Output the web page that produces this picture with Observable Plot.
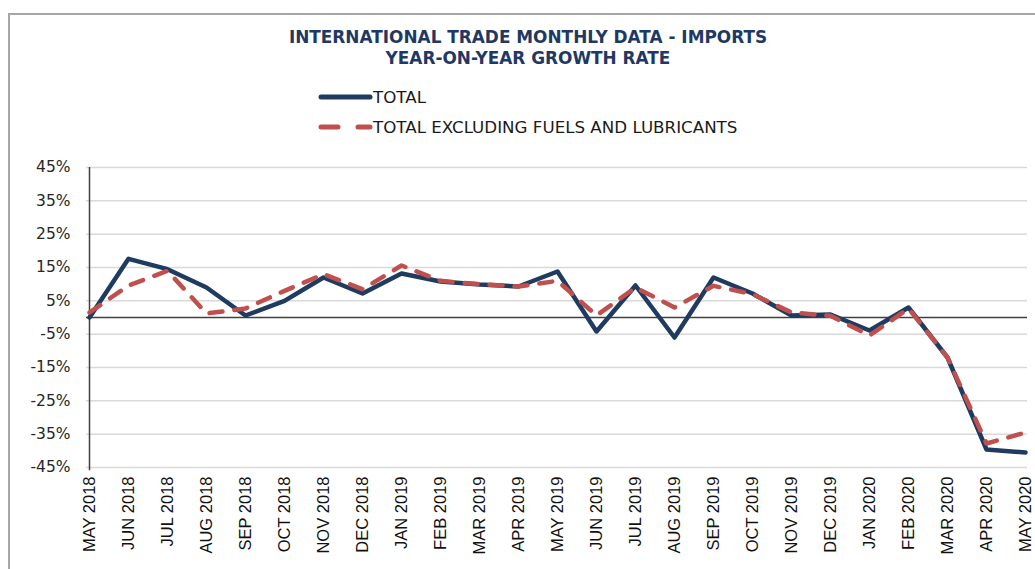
<!DOCTYPE html>
<html>
<head>
<meta charset="utf-8">
<script src="https://cdn.jsdelivr.net/npm/d3@7"></script>
<script src="https://cdn.jsdelivr.net/npm/@observablehq/plot@0.6"></script>
<style>
  body { margin:0; width:1035px; height:569px; overflow:hidden; position:relative; background:#fff; }
  .frame { position:absolute; left:8px; top:13px; width:1100px; height:700px; border-left:2px solid #a6a6a6; border-top:2px solid #a6a6a6; }
  .title { position:absolute; left:0; width:1056px; text-align:center; font-family:"DejaVu Sans",sans-serif; font-weight:bold; font-size:16.9px; color:#1f3864; }
  .leg { position:absolute; left:318px; font-family:"DejaVu Sans",sans-serif; font-size:16.7px; color:#1a1a1a; display:flex; align-items:center; }
  #chart { position:absolute; left:0; top:150px; }
</style>
</head>
<body>
<div class="frame"></div>
<div class="title" style="top:27px">INTERNATIONAL TRADE MONTHLY DATA - IMPORTS</div>
<div class="title" style="top:48px">YEAR-ON-YEAR GROWTH RATE</div>
<div class="leg" style="top:87px"><svg width="55" height="10"><line x1="3" x2="52" y1="5" y2="5" stroke="#1f3b5f" stroke-width="5" stroke-linecap="round"/></svg>TOTAL</div>
<div class="leg" style="top:117px"><svg width="55" height="10"><line x1="3" x2="52" y1="5" y2="5" stroke="#c0504d" stroke-width="5" stroke-linecap="round" stroke-dasharray="17,20"/></svg>TOTAL EXCLUDING FUELS AND LUBRICANTS</div>
<div id="chart"></div>
<script>
const months = ["MAY 2018","JUN 2018","JUL 2018","AUG 2018","SEP 2018","OCT 2018","NOV 2018","DEC 2018",
  "JAN 2019","FEB 2019","MAR 2019","APR 2019","MAY 2019","JUN 2019","JUL 2019","AUG 2019","SEP 2019",
  "OCT 2019","NOV 2019","DEC 2019","JAN 2020","FEB 2020","MAR 2020","APR 2020","MAY 2020"];
const total = [0, 17.6, 14.5, 9, 0.6, 5, 12, 7.2, 13.2, 10.8, 9.9, 9.3, 13.8, -4.2, 9.6, -6, 12, 7.2, 0.6, 0.9, -3.9, 3, -12, -39.6, -40.5];
const exclFuels = [1.5, 9.6, 14, 1.2, 2.7, 8, 13, 8.5, 15.6, 11, 10, 9.3, 11, 0.6, 9, 3, 9.5, 7, 1.5, 0.5, -5.4, 2.7, -12, -37.8, -34.5];
const yTicks = [-45, -35, -25, -15, -5, 5, 15, 25, 35, 45];

const rowsTotal = months.map((m, i) => ({month: m, value: total[i]}));
const rowsExcl = months.map((m, i) => ({month: m, value: exclFuels[i]}));

const chart = Plot.plot({
  width: 1035,
  height: 419,
  marginTop: 17,
  marginBottom: 102,
  marginLeft: 86,
  marginRight: 8,
  style: {background: "transparent", overflow: "visible"},
  x: {type: "point", domain: months, padding: 0, label: null},
  y: {domain: [-45, 45], label: null},
  marks: [
    Plot.gridY(yTicks, {stroke: "#d9d9d9", strokeOpacity: 1, strokeWidth: 1.5}),
    Plot.axisY(yTicks, {tickSize: 0, tickPadding: 16, tickFormat: d => d + "%", label: null}),
    Plot.axisX({tickSize: 0, tickPadding: 9, tickRotate: -90, label: null}),
    Plot.ruleY([0], {stroke: "#404040", strokeWidth: 1.5}),
    Plot.ruleX([months[0]], {y1: -46, y2: 45, stroke: "#404040", strokeWidth: 1.5}),
    Plot.line(rowsTotal, {x: "month", y: "value", stroke: "#1f3b5f", strokeWidth: 4.5}),
    Plot.line(rowsExcl, {x: "month", y: "value", stroke: "#c0504d", strokeWidth: 4.5, strokeDasharray: "13,12", strokeLinecap: "round"})
  ]
});
d3.select(chart).selectAll("text").each(function () {
  const t = this.textContent;
  if (t.endsWith("%")) {
    d3.select(this).style("font-size", "15.5px").style("font-family", "'DejaVu Sans', sans-serif").style("fill", "#262626");
  } else if (months.includes(t)) {
    d3.select(this).style("font-size", "16.5px").style("font-family", "'Liberation Sans', sans-serif").style("fill", "#111");
  }
});
document.getElementById("chart").appendChild(chart);
</script>
</body>
</html>
